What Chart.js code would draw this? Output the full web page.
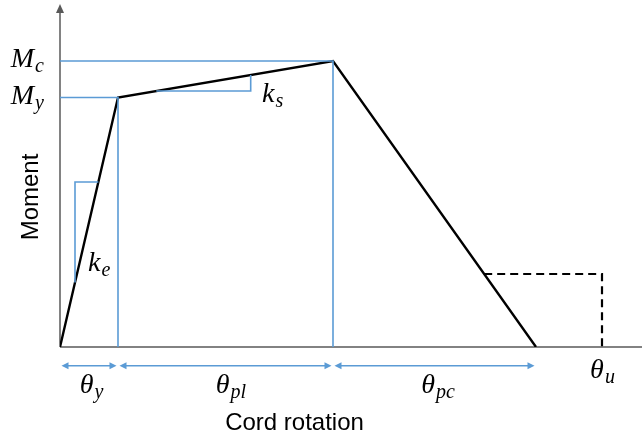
<!DOCTYPE html>
<html>
<head>
<meta charset="utf-8">
<script src="https://cdn.jsdelivr.net/npm/chart.js@4.4.1/dist/chart.umd.min.js"></script>
<style>
  html, body { margin: 0; padding: 0; background: #fff; }
  #wrap { width: 642px; height: 441px; }
</style>
</head>
<body>
<div id="wrap"><canvas id="backbone"></canvas></div>
<script>
// Backbone curve (rotation, moment) in arbitrary units
const thetaPts = [0, 5.8, 27.3, 47.6];      // origin, yield, capping, zero moment
const momentPts = [0, 24.95, 28.6, 0];
const residualMoment = 7.3;
const thetaU = 54.2;

// Slope markers: corner of each little triangle
const keCorner = [1.5, 16.5];
const ksCorner = [19.07, 25.6];

// Axis extents
const xMax = 58.2;
const yMax = 34.3;

const BLUE = '#5B9BD5';
const GREY = '#595959';

// point on a segment at a given moment / rotation
function thetaAt(i, m) {
    const t = (m - momentPts[i]) / (momentPts[i + 1] - momentPts[i]);
    return thetaPts[i] + t * (thetaPts[i + 1] - thetaPts[i]);
}
function momentAt(i, th) {
    const t = (th - thetaPts[i]) / (thetaPts[i + 1] - thetaPts[i]);
    return momentPts[i] + t * (momentPts[i + 1] - momentPts[i]);
}

const [thY, thC, thR] = [thetaPts[1], thetaPts[2], thetaPts[3]];
const [My, Mc] = [momentPts[1], momentPts[2]];

function line(points, color, width, dash) {
    return {
        data: points.map(p => ({ x: p[0], y: p[1] })),
        showLine: true,
        borderColor: color,
        borderWidth: width,
        borderDash: dash || [],
        pointRadius: 0,
        fill: false,
        tension: 0
    };
}

const datasets = [
    // guide lines
    line([[0, Mc], [thC, Mc], [thC, 0]], BLUE, 1.6),
    line([[0, My], [thY, My], [thY, 0]], BLUE, 1.6),
    line([[keCorner[0], momentAt(0, keCorner[0])], [keCorner[0], keCorner[1]], [thetaAt(0, keCorner[1]), keCorner[1]]], BLUE, 1.6),
    line([[thetaAt(1, ksCorner[1]), ksCorner[1]], [ksCorner[0], ksCorner[1]], [ksCorner[0], momentAt(1, ksCorner[0])]], BLUE, 1.6),
    // residual strength
    line([[thetaAt(2, residualMoment), residualMoment], [thetaU, residualMoment], [thetaU, 0]], '#000', 2.2, [8, 5]),
    // backbone
    line(thetaPts.map((t, i) => [t, momentPts[i]]), '#000', 2.4)
];

function mathLabel(ctx, base, sub, x, y, align) {
    ctx.font = 'italic 28px "Liberation Serif", serif';
    const wb = ctx.measureText(base).width;
    ctx.font = 'italic 20px "Liberation Serif", serif';
    const ws = ctx.measureText(sub).width;
    let left = x;
    if (align === 'center') left = x - (wb + ws) / 2;
    if (align === 'right') left = x - (wb + ws);
    ctx.fillStyle = '#000';
    ctx.textAlign = 'left';
    ctx.textBaseline = 'alphabetic';
    ctx.font = 'italic 28px "Liberation Serif", serif';
    ctx.fillText(base, left, y);
    ctx.font = 'italic 20px "Liberation Serif", serif';
    ctx.fillText(sub, left + wb + 1, y + 5);
}

function arrowHead(ctx, x, y, dir) {
    ctx.beginPath();
    ctx.moveTo(x, y);
    ctx.lineTo(x - dir * 7, y - 3.5);
    ctx.lineTo(x - dir * 7, y + 3.5);
    ctx.closePath();
    ctx.fill();
}

const annotations = {
    id: 'annotations',
    beforeDatasetsDraw(chart) {
        const { ctx, chartArea, scales: { x, y } } = chart;
        ctx.save();
        ctx.strokeStyle = GREY;
        ctx.fillStyle = GREY;
        ctx.lineWidth = 1.5;
        // axes
        ctx.beginPath();
        ctx.moveTo(chartArea.left, y.getPixelForValue(0));
        ctx.lineTo(chartArea.right, y.getPixelForValue(0));
        ctx.moveTo(chartArea.left, y.getPixelForValue(0));
        ctx.lineTo(chartArea.left, chartArea.top + 6);
        ctx.stroke();
        ctx.beginPath();
        ctx.moveTo(chartArea.left, chartArea.top);
        ctx.lineTo(chartArea.left - 4, chartArea.top + 9);
        ctx.lineTo(chartArea.left + 4, chartArea.top + 9);
        ctx.closePath();
        ctx.fill();
        ctx.restore();
    },
    afterDatasetsDraw(chart) {
        const { ctx, scales: { x, y } } = chart;
        ctx.save();
        // dimension arrows below the rotation axis
        const yDim = y.getPixelForValue(0) + 18.7;
        ctx.strokeStyle = BLUE;
        ctx.fillStyle = BLUE;
        ctx.lineWidth = 1.5;
        [[0, thY], [thY, thC], [thC, thR]].forEach(([a, b]) => {
            const x0 = x.getPixelForValue(a) + 1.5;
            const x1 = x.getPixelForValue(b) - 1.5;
            ctx.beginPath();
            ctx.moveTo(x0 + 3, yDim);
            ctx.lineTo(x1 - 3, yDim);
            ctx.stroke();
            arrowHead(ctx, x0, yDim, -1);
            arrowHead(ctx, x1, yDim, 1);
        });

        // math labels
        const mid = (a, b) => (x.getPixelForValue(a) + x.getPixelForValue(b)) / 2;
        mathLabel(ctx, 'M', 'c', 43, y.getPixelForValue(Mc) + 6, 'right');
        mathLabel(ctx, 'M', 'y', 43, y.getPixelForValue(My) + 6.5, 'right');
        mathLabel(ctx, 'k', 'e', 88, 271, 'left');
        mathLabel(ctx, 'k', 's', 262, 102, 'left');
        mathLabel(ctx, '\u03B8', 'y', mid(0, thY) + 2, yDim + 27, 'center');
        mathLabel(ctx, '\u03B8', 'pl', mid(thY, thC) + 5, yDim + 27, 'center');
        mathLabel(ctx, '\u03B8', 'pc', mid(thC, thR) + 3, yDim + 27, 'center');
        mathLabel(ctx, '\u03B8', 'u', x.getPixelForValue(thetaU), y.getPixelForValue(0) + 31, 'center');

        // axis titles
        ctx.fillStyle = '#000';
        ctx.font = '24px "Liberation Sans", Arial, sans-serif';
        ctx.textAlign = 'center';
        ctx.textBaseline = 'alphabetic';
        ctx.fillText('Cord rotation', 294.5, 430);
        ctx.translate(38, 197);
        ctx.rotate(-Math.PI / 2);
        ctx.fillText('Moment', 0, 0);
        ctx.restore();
    }
};

new Chart(document.getElementById('backbone'), {
    type: 'scatter',
    data: { datasets },
    options: {
        responsive: true,
        maintainAspectRatio: false,
        animation: false,
        layout: { padding: { left: 60, top: 4, right: 0, bottom: 94 } },
        plugins: {
            legend: { display: false },
            tooltip: { enabled: false }
        },
        scales: {
            x: { type: 'linear', min: 0, max: xMax, display: false },
            y: { type: 'linear', min: 0, max: yMax, display: false }
        }
    },
    plugins: [annotations]
});
</script>
</body>
</html>
